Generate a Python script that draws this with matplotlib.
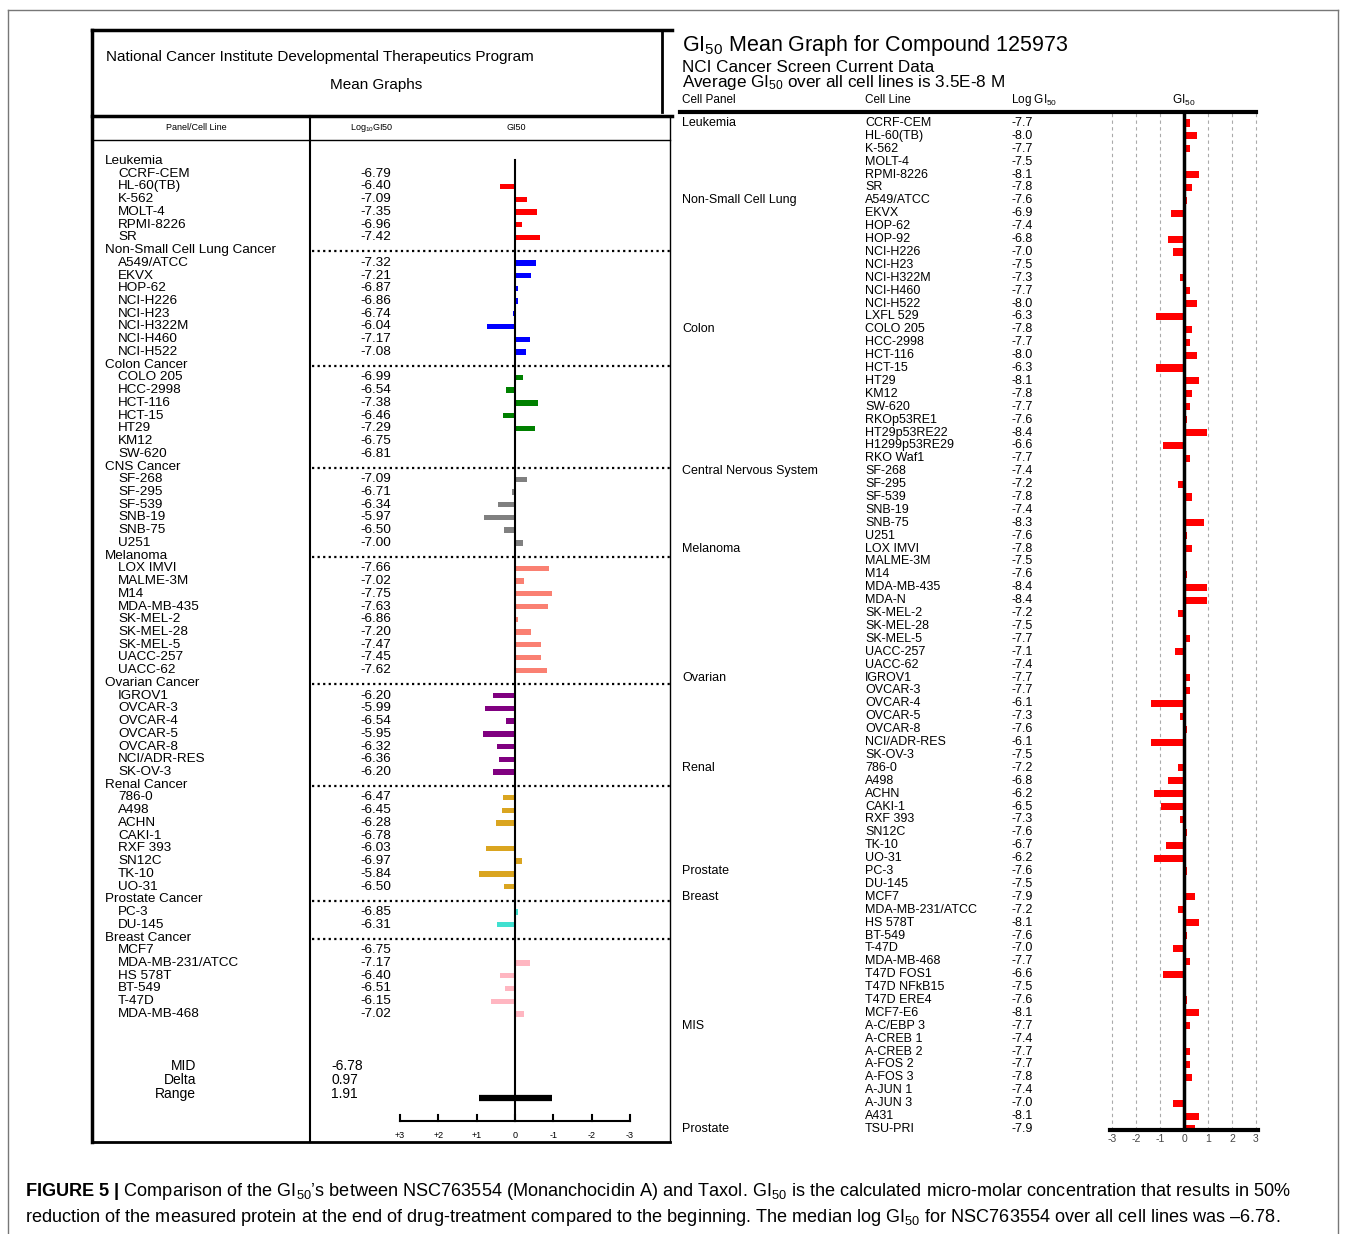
import numpy as np
import matplotlib
matplotlib.use("Agg")
import matplotlib.pyplot as plt
from matplotlib.lines import Line2D
from matplotlib.transforms import blended_transform_factory

plt.rcParams['font.family'] = ['Liberation Sans', 'DejaVu Sans']
plt.rcParams['mathtext.fontset'] = 'custom'
plt.rcParams['mathtext.rm'] = 'Liberation Sans'
plt.rcParams['mathtext.it'] = 'Liberation Sans:italic'
plt.rcParams['mathtext.bf'] = 'Liberation Sans:bold'

# ---- left panel data (NSC763554) ----
left_panels = ["Leukemia", "Non-Small Cell Lung Cancer", "Colon Cancer", "CNS Cancer",
               "Melanoma", "Ovarian Cancer", "Renal Cancer", "Prostate Cancer", "Breast Cancer"]
left_colors = ["#ff0000", "#0000ff", "#008000", "#808080", "#fa8072",
               "#800080", "#daa520", "#40e0d0", "#ffb6c1"]
left_cells = [
    ["CCRF-CEM", "HL-60(TB)", "K-562", "MOLT-4", "RPMI-8226", "SR"],
    ["A549/ATCC", "EKVX", "HOP-62", "NCI-H226", "NCI-H23", "NCI-H322M", "NCI-H460", "NCI-H522"],
    ["COLO 205", "HCC-2998", "HCT-116", "HCT-15", "HT29", "KM12", "SW-620"],
    ["SF-268", "SF-295", "SF-539", "SNB-19", "SNB-75", "U251"],
    ["LOX IMVI", "MALME-3M", "M14", "MDA-MB-435", "SK-MEL-2", "SK-MEL-28", "SK-MEL-5",
     "UACC-257", "UACC-62"],
    ["IGROV1", "OVCAR-3", "OVCAR-4", "OVCAR-5", "OVCAR-8", "NCI/ADR-RES", "SK-OV-3"],
    ["786-0", "A498", "ACHN", "CAKI-1", "RXF 393", "SN12C", "TK-10", "UO-31"],
    ["PC-3", "DU-145"],
    ["MCF7", "MDA-MB-231/ATCC", "HS 578T", "BT-549", "T-47D", "MDA-MB-468"],
]
left_log_gi50 = [
    [-6.79, -6.40, -7.09, -7.35, -6.96, -7.42],
    [-7.32, -7.21, -6.87, -6.86, -6.74, -6.04, -7.17, -7.08],
    [-6.99, -6.54, -7.38, -6.46, -7.29, -6.75, -6.81],
    [-7.09, -6.71, -6.34, -5.97, -6.50, -7.00],
    [-7.66, -7.02, -7.75, -7.63, -6.86, -7.20, -7.47, -7.45, -7.62],
    [-6.20, -5.99, -6.54, -5.95, -6.32, -6.36, -6.20],
    [-6.47, -6.45, -6.28, -6.78, -6.03, -6.97, -5.84, -6.50],
    [-6.85, -6.31],
    [-6.75, -7.17, -6.40, -6.51, -6.15, -7.02],
]
left_mid = -6.78
left_delta = 0.97
left_range = 1.91

# ---- right panel data (compound 125973) ----
right_panels = ["Leukemia", "Non-Small Cell Lung", "Colon", "Central Nervous System", "Melanoma",
                "Ovarian", "Renal", "Prostate", "Breast", "MIS", "Prostate"]
right_panel_sizes = [6, 10, 11, 6, 10, 7, 8, 2, 10, 8, 1]
right_cells = [
    "CCRF-CEM", "HL-60(TB)", "K-562", "MOLT-4", "RPMI-8226", "SR",
    "A549/ATCC", "EKVX", "HOP-62", "HOP-92", "NCI-H226", "NCI-H23", "NCI-H322M", "NCI-H460",
    "NCI-H522", "LXFL 529",
    "COLO 205", "HCC-2998", "HCT-116", "HCT-15", "HT29", "KM12", "SW-620", "RKOp53RE1",
    "HT29p53RE22", "H1299p53RE29", "RKO Waf1",
    "SF-268", "SF-295", "SF-539", "SNB-19", "SNB-75", "U251",
    "LOX IMVI", "MALME-3M", "M14", "MDA-MB-435", "MDA-N", "SK-MEL-2", "SK-MEL-28", "SK-MEL-5",
    "UACC-257", "UACC-62",
    "IGROV1", "OVCAR-3", "OVCAR-4", "OVCAR-5", "OVCAR-8", "NCI/ADR-RES", "SK-OV-3",
    "786-0", "A498", "ACHN", "CAKI-1", "RXF 393", "SN12C", "TK-10", "UO-31",
    "PC-3", "DU-145",
    "MCF7", "MDA-MB-231/ATCC", "HS 578T", "BT-549", "T-47D", "MDA-MB-468", "T47D FOS1",
    "T47D NFkB15", "T47D ERE4", "MCF7-E6",
    "A-C/EBP 3", "A-CREB 1", "A-CREB 2", "A-FOS 2", "A-FOS 3", "A-JUN 1", "A-JUN 3", "A431",
    "TSU-PRI",
]
right_log_gi50 = [
    -7.7, -8.0, -7.7, -7.5, -8.1, -7.8,
    -7.6, -6.9, -7.4, -6.8, -7.0, -7.5, -7.3, -7.7, -8.0, -6.3,
    -7.8, -7.7, -8.0, -6.3, -8.1, -7.8, -7.7, -7.6, -8.4, -6.6, -7.7,
    -7.4, -7.2, -7.8, -7.4, -8.3, -7.6,
    -7.8, -7.5, -7.6, -8.4, -8.4, -7.2, -7.5, -7.7, -7.1, -7.4,
    -7.7, -7.7, -6.1, -7.3, -7.6, -6.1, -7.5,
    -7.2, -6.8, -6.2, -6.5, -7.3, -7.6, -6.7, -6.2,
    -7.6, -7.5,
    -7.9, -7.2, -8.1, -7.6, -7.0, -7.7, -6.6, -7.5, -7.6, -8.1,
    -7.7, -7.4, -7.7, -7.7, -7.8, -7.4, -7.0, -8.1,
    -7.9,
]
right_avg_gi50 = 3.5e-8

W, H = 1346, 1234
fig = plt.figure(figsize=(W / 100, H / 100), dpi=100)


def fx(px):
    return px / W


def fy(py):
    return 1 - py / H


def fline(x0, y0, x1, y1, **kw):
    fig.add_artist(Line2D([fx(x0), fx(x1)], [fy(y0), fy(y1)], transform=fig.transFigure, **kw))


# outer frame
fline(8, 10, 1338, 10, color="#777777", lw=1)
fline(8, 10, 8, 1240, color="#777777", lw=1)
fline(1338, 10, 1338, 1240, color="#777777", lw=1)

# ================= LEFT PANEL =================
fline(92, 30, 672, 30, color="k", lw=2.5)
fline(92, 30, 92, 1142, color="k", lw=2.5)
fline(662, 30, 662, 112, color="k", lw=2)
fline(92, 116, 672, 116, color="k", lw=2.5)
fline(92, 140, 670, 140, color="k", lw=1)
fline(310, 116, 310, 1142, color="k", lw=1.5)
fline(670, 116, 670, 1142, color="k", lw=1)
fline(92, 1142, 670, 1142, color="k", lw=2)

fig.text(fx(106), fy(57), "National Cancer Institute Developmental Therapeutics Program",
         fontsize=11, va="center", ha="left")
fig.text(fx(376), fy(85), "Mean Graphs", fontsize=11, va="center", ha="center")
fig.text(fx(196), fy(128), "Panel/Cell Line", fontsize=6.5, va="center", ha="center")
fig.text(fx(372), fy(128), "Log$_{10}$GI50", fontsize=6.5, va="center", ha="center")
fig.text(fx(516), fy(128), "GI50", fontsize=6.5, va="center", ha="center")

ax_l = fig.add_axes([fx(312), fy(1142), (670 - 312) / W, (1142 - 140) / H])
ax_l.axis("off")
l_unit = 38.33
ax_l.set_xlim((515 - 312) / l_unit, -(670 - 515) / l_unit)
l_row = 12.73
ax_l.set_ylim((1142 - 161) / l_row, (140 - 161) / l_row)
tl = blended_transform_factory(fig.transFigure, ax_l.transData)

r = 0
all_left = []
for gi, name in enumerate(left_panels):
    ax_l.text(fx(105), r, name, transform=tl, fontsize=9.7, va="center", ha="left")
    if gi > 0:
        ax_l.plot([ax_l.get_xlim()[0], ax_l.get_xlim()[1]], [r + 0.1, r + 0.1],
                  color="k", ls=(0, (1, 1.5)), lw=1.6, clip_on=False)
    r += 1
    for cell, v in zip(left_cells[gi], left_log_gi50[gi]):
        ax_l.text(fx(118), r, cell, transform=tl, fontsize=9.7, va="center", ha="left")
        ax_l.text(fx(391), r, f"{v:.2f}", transform=tl, fontsize=9.7, va="center", ha="right")
        ax_l.barh(r, v - left_mid, height=0.42, color=left_colors[gi])
        all_left.append(v)
        r += 1

axis_r = (1121 - 161) / l_row
ax_l.plot([0, 0], [-0.1, axis_r], color="k", lw=1.5)
ax_l.plot([3, -3], [axis_r, axis_r], color="k", lw=1.5)
for t in range(-3, 4):
    ax_l.plot([t, t], [axis_r, axis_r - 0.45], color="k", lw=1.5)
    lab = "0" if t == 0 else (f"+{t}" if t > 0 else f"{t}")
    ax_l.text(t, axis_r + 1.1, lab, fontsize=6.5, ha="center", va="center")

range_r = (1098 - 161) / l_row
ax_l.plot([max(all_left) - left_mid, min(all_left) - left_mid], [range_r, range_r],
          color="k", lw=4.5, solid_capstyle="butt")

for py, lab, val in [(1066, "MID", f"{left_mid:.2f}"), (1080, "Delta", f"{left_delta:.2f}"),
                     (1094, "Range", f"{left_range:.2f}")]:
    fig.text(fx(196), fy(py), lab, fontsize=10, ha="right", va="center")
    fig.text(fx(331), fy(py), val, fontsize=10, ha="left", va="center")

# ================= RIGHT PANEL =================
fig.text(fx(682), fy(46), r"GI$_{50}$ Mean Graph for Compound 125973", fontsize=15.5,
         ha="left", va="center")
fig.text(fx(682), fy(67), "NCI Cancer Screen Current Data", fontsize=12.3, ha="left", va="center")
fig.text(fx(682), fy(83), r"Average GI$_{50}$ over all cell lines is 3.5E-8 M", fontsize=12.3,
         ha="left", va="center")
fig.text(fx(682), fy(100), "Cell Panel", fontsize=8.5, ha="left", va="center")
fig.text(fx(865), fy(100), "Cell Line", fontsize=8.5, ha="left", va="center")
fig.text(fx(1011), fy(100), r"Log GI$_{50}$", fontsize=8.5, ha="left", va="center")
fig.text(fx(1184), fy(100), r"GI$_{50}$", fontsize=8.5, ha="center", va="center")
fline(680, 112, 1256, 112, color="k", lw=3)

ax_r = fig.add_axes([fx(1110), fy(1130), (1258 - 1110) / W, (1130 - 112) / H])
r_unit = 24.0
ax_r.set_xlim(-(1184 - 1110) / r_unit, (1258 - 1184) / r_unit)
r_row = 12.897
ax_r.set_ylim((1130 - 123) / r_row, (112 - 123) / r_row)
for s in ["top", "left", "right"]:
    ax_r.spines[s].set_visible(False)
ax_r.spines["bottom"].set_linewidth(3)
ax_r.set_yticks([])
ax_r.set_xticks(range(-3, 4))
ax_r.set_xticklabels([str(t) for t in range(-3, 4)], fontsize=7.5, color="#444444")
ax_r.tick_params(axis="x", length=0, pad=3)
ax_r.patch.set_alpha(0)

for t in [-3, -2, -1, 1, 2, 3]:
    ax_r.axvline(t, color="#aaaaaa", ls=(0, (3, 3)), lw=0.8, zorder=1)

mean_log = np.log10(right_avg_gi50)
rows = np.arange(len(right_cells))
ax_r.barh(rows, mean_log - np.array(right_log_gi50), height=0.55, color="#ff0000", zorder=2)
ax_r.axvline(0, color="k", lw=2.5, zorder=3)

tr = blended_transform_factory(fig.transFigure, ax_r.transData)
for i, (cell, v) in enumerate(zip(right_cells, right_log_gi50)):
    ax_r.text(fx(865), i, cell, transform=tr, fontsize=9, ha="left", va="center")
    ax_r.text(fx(1011), i, f"{v:.1f}", transform=tr, fontsize=9, ha="left", va="center")
start = 0
for name, n in zip(right_panels, right_panel_sizes):
    ax_r.text(fx(682), start, name, transform=tr, fontsize=9, ha="left", va="center")
    start += n

# ================= CAPTION =================
fig.text(fx(25), fy(1192),
         r"$\mathbf{FIGURE\ 5\ |}$ Comparison of the GI$_{50}$’s between NSC763554 (Monanchocidin A) "
         r"and Taxol. GI$_{50}$ is the calculated micro-molar concentration that results in 50%",
         fontsize=13.1, ha="left", va="center")
fig.text(fx(25), fy(1217),
         r"reduction of the measured protein at the end of drug-treatment compared to the beginning. "
         r"The median log GI$_{50}$ for NSC763554 over all cell lines was –6.78.",
         fontsize=13.1, ha="left", va="center")

plt.savefig("out.png", dpi=100)
